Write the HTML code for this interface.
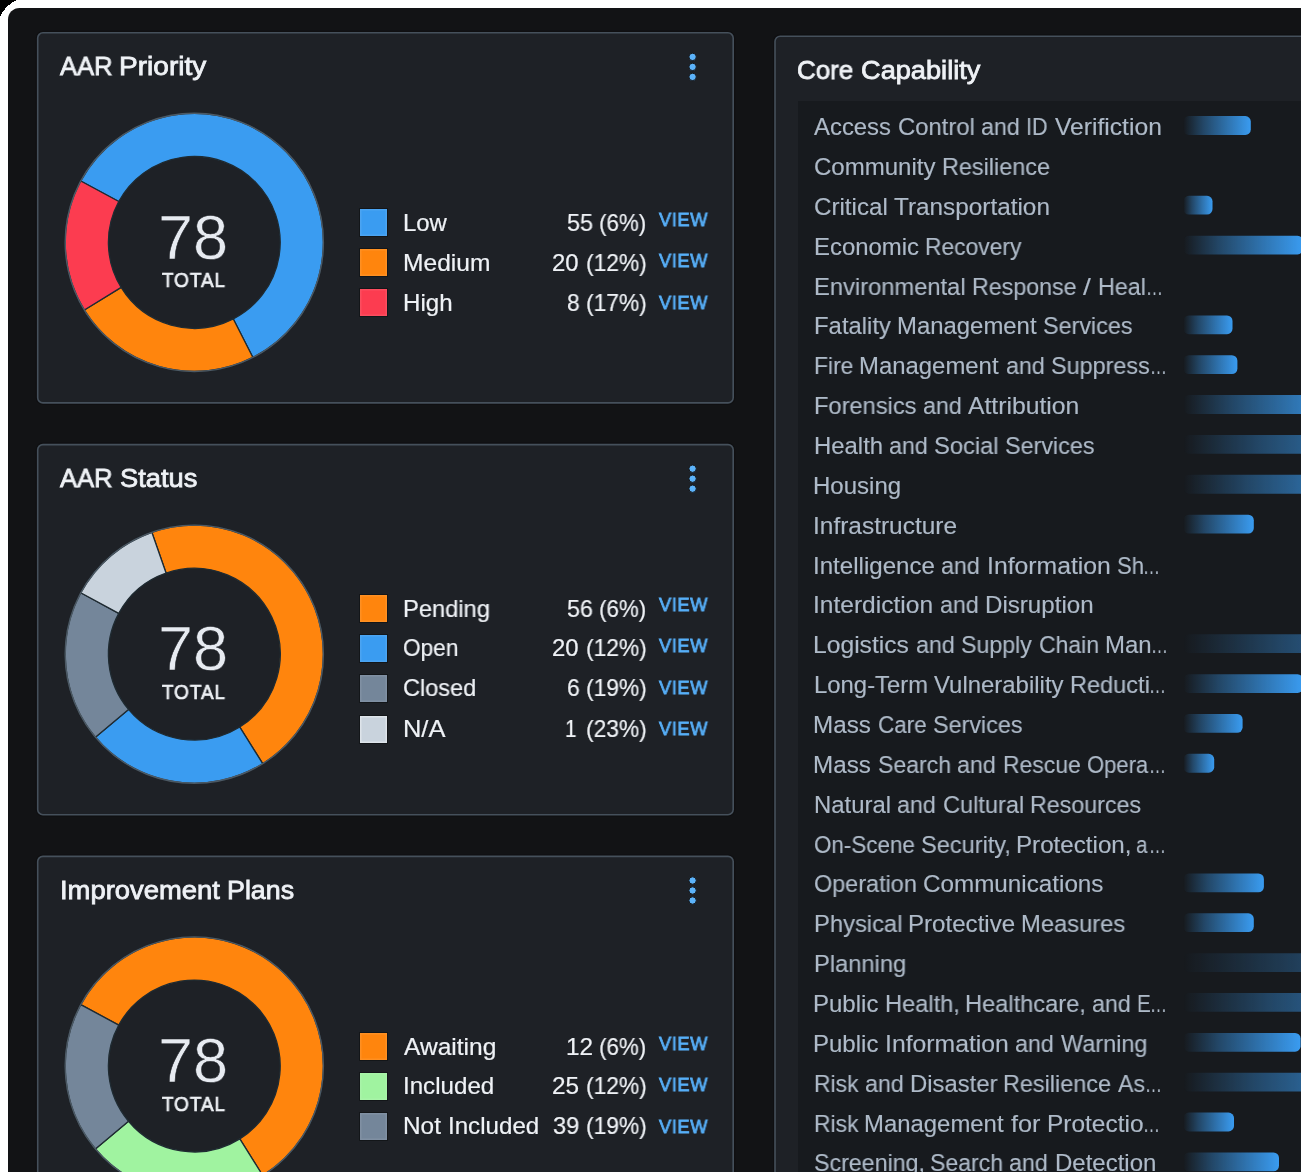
<!DOCTYPE html>
<html lang="en"><head><meta charset="utf-8"><title>AAR Dashboard</title>
<style>
html,body{margin:0;padding:0}
body{width:1301px;height:1172px;overflow:hidden;position:relative;background:#fff;font-family:"Liberation Sans",sans-serif;}
.page{position:absolute;left:8px;top:8px;width:1293px;height:1164px;background:#121315;border-top-left-radius:11.5px;overflow:hidden}
.abs{position:absolute}
.tx{position:static;display:block;margin:0;padding:0}
.t{position:absolute;white-space:nowrap;transform-origin:0 0;display:block;will-change:transform}
.card{position:absolute;background:#1e2126;border-radius:5px}
.sw{position:absolute;width:27px;height:27px}
svg{position:absolute;left:0;top:0;overflow:visible}
.bar{position:absolute;height:19px;border-radius:0 6px 6px 0}
</style></head><body>
<svg width="20" height="20" shape-rendering="crispEdges"><path d="M0 0H17.2Q5.1 5.1 0 17.2Z" fill="#000"/></svg>
<div class="page"></div>

<section class="tx" aria-label="AAR Priority">
<div class="card" style="left:37.7px;top:32.8px;width:695.5px;height:370.1px"></div><svg width="1301" height="1172"><rect x="37.7" y="32.8" width="695.5" height="370.1" rx="5.2" fill="none" stroke="#0c0d0f" stroke-width="4" opacity="0.55"/><rect x="37.7" y="32.8" width="695.5" height="370.1" rx="5.2" fill="#1e2126" stroke="#45505b" stroke-width="1.6"/></svg>
<span class="tx"><span class="t med" style="left:60.24px;top:51.00px;font-size:26.3px;line-height:30px;color:#eff2f6;transform:scaleX(0.9739);-webkit-text-stroke:0.8px #eff2f6;">AAR</span> <span class="t med" style="left:119.46px;top:51.00px;font-size:26.3px;line-height:30px;color:#eff2f6;transform:scaleX(1.0668);-webkit-text-stroke:0.8px #eff2f6;">Priority</span></span>
<svg width="1301" height="1172"><g fill="#5cb3fa" stroke="#15181c" stroke-width="1"><circle cx="692.6" cy="56.9" r="3.7"/><circle cx="692.6" cy="66.9" r="3.7"/><circle cx="692.6" cy="76.9" r="3.7"/></g></svg>
<svg width="1301" height="1172"><path d="M80.74 181.00A129.1 129.1 0 1 1 252.91 357.43L233.30 318.94A85.9 85.9 0 1 0 118.74 201.54Z" fill="#3a9cf1" stroke="#1f2b32" stroke-width="1.3" stroke-linejoin="round"/><path d="M252.91 357.43A129.1 129.1 0 0 1 84.34 310.05L121.14 287.41A85.9 85.9 0 0 0 233.30 318.94Z" fill="#ff850d" stroke="#1f2b32" stroke-width="1.3" stroke-linejoin="round"/><path d="M84.34 310.05A129.1 129.1 0 0 1 80.74 181.00L118.74 201.54A85.9 85.9 0 0 0 121.14 287.41Z" fill="#fc3c50" stroke="#1f2b32" stroke-width="1.3" stroke-linejoin="round"/><circle cx="194.3" cy="242.4" r="129.1" fill="none" stroke="#4c5964" stroke-width="1.4"/></svg>
<span class="t num" style="left:158.07px;top:201.57px;font-size:62.9px;line-height:70px;color:#e7ebf1;transform:scaleX(1.0023);-webkit-text-stroke:0.55px #1e2126;">78</span>
<span class="t med" style="left:161.82px;top:269.25px;font-size:20.0px;line-height:22px;color:#eef1f5;transform:scaleX(0.9450);letter-spacing:1.0px;-webkit-text-stroke:0.7px #eef1f5;">TOTAL</span>
<div class="sw" style="left:360.3px;top:209.3px;background:#3a9cf1;box-shadow:inset 0 0 0 1.5px rgba(255,255,255,.09),0 0 0 1px rgba(6,8,12,.45);"></div>
<span class="tx"><span class="t " style="left:403.08px;top:208.80px;font-size:23.9px;line-height:27px;color:#eff2f6;transform:scaleX(1.0015);-webkit-text-stroke:0.2px #eff2f6;">Low</span></span>
<span class="tx"><span class="t " style="left:567.04px;top:208.80px;font-size:23.9px;line-height:27px;color:#eff2f6;transform:scaleX(0.9803);-webkit-text-stroke:0.2px #eff2f6;">55</span> <span class="t " style="left:599.48px;top:208.80px;font-size:23.9px;line-height:27px;color:#eff2f6;transform:scaleX(0.9353);-webkit-text-stroke:0.2px #eff2f6;">(6%)</span></span>
<span class="t med" style="left:658.71px;top:208.70px;font-size:18.9px;line-height:21px;color:#57aff8;transform:scaleX(0.9670);letter-spacing:0.6px;-webkit-text-stroke:0.8px #57aff8;">VIEW</span>
<div class="sw" style="left:360.3px;top:249.3px;background:#ff850d;box-shadow:inset 0 0 0 1.5px rgba(255,255,255,.09),0 0 0 1px rgba(6,8,12,.45);"></div>
<span class="tx"><span class="t " style="left:403.02px;top:248.60px;font-size:23.9px;line-height:27px;color:#eff2f6;transform:scaleX(1.0288);-webkit-text-stroke:0.2px #eff2f6;">Medium</span></span>
<span class="tx"><span class="t " style="left:552.49px;top:248.60px;font-size:23.9px;line-height:27px;color:#eff2f6;transform:scaleX(0.9998);-webkit-text-stroke:0.2px #eff2f6;">20</span> <span class="t " style="left:585.88px;top:248.60px;font-size:23.9px;line-height:27px;color:#eff2f6;transform:scaleX(0.9535);-webkit-text-stroke:0.2px #eff2f6;">(12%)</span></span>
<span class="t med" style="left:658.71px;top:250.20px;font-size:18.9px;line-height:21px;color:#57aff8;transform:scaleX(0.9670);letter-spacing:0.6px;-webkit-text-stroke:0.8px #57aff8;">VIEW</span>
<div class="sw" style="left:360.3px;top:289.3px;background:#fc3c50;box-shadow:inset 0 0 0 1.5px rgba(255,255,255,.09),0 0 0 1px rgba(6,8,12,.45);"></div>
<span class="tx"><span class="t " style="left:403.06px;top:288.50px;font-size:23.9px;line-height:27px;color:#eff2f6;transform:scaleX(1.0081);-webkit-text-stroke:0.2px #eff2f6;">High</span></span>
<span class="tx"><span class="t " style="left:566.52px;top:288.50px;font-size:23.9px;line-height:27px;color:#eff2f6;transform:scaleX(0.9506);-webkit-text-stroke:0.2px #eff2f6;">8</span> <span class="t " style="left:585.88px;top:288.50px;font-size:23.9px;line-height:27px;color:#eff2f6;transform:scaleX(0.9535);-webkit-text-stroke:0.2px #eff2f6;">(17%)</span></span>
<span class="t med" style="left:658.71px;top:291.60px;font-size:18.9px;line-height:21px;color:#57aff8;transform:scaleX(0.9670);letter-spacing:0.6px;-webkit-text-stroke:0.8px #57aff8;">VIEW</span>
</section>
<section class="tx" aria-label="AAR Status">
<div class="card" style="left:37.7px;top:444.6px;width:695.5px;height:370.1px"></div><svg width="1301" height="1172"><rect x="37.7" y="444.6" width="695.5" height="370.1" rx="5.2" fill="none" stroke="#0c0d0f" stroke-width="4" opacity="0.55"/><rect x="37.7" y="444.6" width="695.5" height="370.1" rx="5.2" fill="#1e2126" stroke="#45505b" stroke-width="1.6"/></svg>
<span class="tx"><span class="t med" style="left:60.24px;top:462.80px;font-size:26.3px;line-height:30px;color:#eff2f6;transform:scaleX(0.9739);-webkit-text-stroke:0.8px #eff2f6;">AAR</span> <span class="t med" style="left:119.60px;top:462.80px;font-size:26.3px;line-height:30px;color:#eff2f6;transform:scaleX(1.0368);-webkit-text-stroke:0.8px #eff2f6;">Status</span></span>
<svg width="1301" height="1172"><g fill="#5cb3fa" stroke="#15181c" stroke-width="1"><circle cx="692.6" cy="468.7" r="3.7"/><circle cx="692.6" cy="478.7" r="3.7"/><circle cx="692.6" cy="488.7" r="3.7"/></g></svg>
<svg width="1301" height="1172"><path d="M151.84 532.28A129.1 129.1 0 0 1 262.71 763.68L239.82 727.05A85.9 85.9 0 0 0 166.05 573.08Z" fill="#ff850d" stroke="#1f2b32" stroke-width="1.3" stroke-linejoin="round"/><path d="M262.71 763.68A129.1 129.1 0 0 1 95.40 737.18L128.50 709.42A85.9 85.9 0 0 0 239.82 727.05Z" fill="#3a9cf1" stroke="#1f2b32" stroke-width="1.3" stroke-linejoin="round"/><path d="M95.40 737.18A129.1 129.1 0 0 1 80.74 592.80L118.74 613.34A85.9 85.9 0 0 0 128.50 709.42Z" fill="#74869a" stroke="#1f2b32" stroke-width="1.3" stroke-linejoin="round"/><path d="M80.74 592.80A129.1 129.1 0 0 1 151.84 532.28L166.05 573.08A85.9 85.9 0 0 0 118.74 613.34Z" fill="#c9d3dd" stroke="#1f2b32" stroke-width="1.3" stroke-linejoin="round"/><circle cx="194.3" cy="654.2" r="129.1" fill="none" stroke="#4c5964" stroke-width="1.4"/></svg>
<span class="t num" style="left:158.07px;top:613.38px;font-size:62.9px;line-height:70px;color:#e7ebf1;transform:scaleX(1.0023);-webkit-text-stroke:0.55px #1e2126;">78</span>
<span class="t med" style="left:161.82px;top:681.05px;font-size:20.0px;line-height:22px;color:#eef1f5;transform:scaleX(0.9450);letter-spacing:1.0px;-webkit-text-stroke:0.7px #eef1f5;">TOTAL</span>
<div class="sw" style="left:360.3px;top:594.6px;background:#ff850d;box-shadow:inset 0 0 0 1.5px rgba(255,255,255,.09),0 0 0 1px rgba(6,8,12,.45);"></div>
<span class="tx"><span class="t " style="left:403.09px;top:594.65px;font-size:23.9px;line-height:27px;color:#eff2f6;transform:scaleX(0.9916);-webkit-text-stroke:0.2px #eff2f6;">Pending</span></span>
<span class="tx"><span class="t " style="left:567.04px;top:594.65px;font-size:23.9px;line-height:27px;color:#eff2f6;transform:scaleX(0.9753);-webkit-text-stroke:0.2px #eff2f6;">56</span> <span class="t " style="left:599.48px;top:594.65px;font-size:23.9px;line-height:27px;color:#eff2f6;transform:scaleX(0.9353);-webkit-text-stroke:0.2px #eff2f6;">(6%)</span></span>
<span class="t med" style="left:658.71px;top:594.00px;font-size:18.9px;line-height:21px;color:#57aff8;transform:scaleX(0.9670);letter-spacing:0.6px;-webkit-text-stroke:0.8px #57aff8;">VIEW</span>
<div class="sw" style="left:360.3px;top:634.6px;background:#3a9cf1;box-shadow:inset 0 0 0 1.5px rgba(255,255,255,.09),0 0 0 1px rgba(6,8,12,.45);"></div>
<span class="tx"><span class="t " style="left:403.42px;top:634.30px;font-size:23.9px;line-height:27px;color:#eff2f6;transform:scaleX(0.9482);-webkit-text-stroke:0.2px #eff2f6;">Open</span></span>
<span class="tx"><span class="t " style="left:552.49px;top:634.30px;font-size:23.9px;line-height:27px;color:#eff2f6;transform:scaleX(0.9998);-webkit-text-stroke:0.2px #eff2f6;">20</span> <span class="t " style="left:585.88px;top:634.30px;font-size:23.9px;line-height:27px;color:#eff2f6;transform:scaleX(0.9535);-webkit-text-stroke:0.2px #eff2f6;">(12%)</span></span>
<span class="t med" style="left:658.71px;top:635.30px;font-size:18.9px;line-height:21px;color:#57aff8;transform:scaleX(0.9670);letter-spacing:0.6px;-webkit-text-stroke:0.8px #57aff8;">VIEW</span>
<div class="sw" style="left:360.3px;top:674.5px;background:#74869a;box-shadow:inset 0 0 0 1.5px rgba(255,255,255,.09),0 0 0 1px rgba(6,8,12,.45);"></div>
<span class="tx"><span class="t " style="left:403.32px;top:673.90px;font-size:23.9px;line-height:27px;color:#eff2f6;transform:scaleX(0.9862);-webkit-text-stroke:0.2px #eff2f6;">Closed</span></span>
<span class="tx"><span class="t " style="left:566.58px;top:673.90px;font-size:23.9px;line-height:27px;color:#eff2f6;transform:scaleX(0.9606);-webkit-text-stroke:0.2px #eff2f6;">6</span> <span class="t " style="left:585.88px;top:673.90px;font-size:23.9px;line-height:27px;color:#eff2f6;transform:scaleX(0.9535);-webkit-text-stroke:0.2px #eff2f6;">(19%)</span></span>
<span class="t med" style="left:658.71px;top:676.70px;font-size:18.9px;line-height:21px;color:#57aff8;transform:scaleX(0.9670);letter-spacing:0.6px;-webkit-text-stroke:0.8px #57aff8;">VIEW</span>
<div class="sw" style="left:360.3px;top:716.2px;background:#c9d3dd;box-shadow:inset 0 0 0 1.5px rgba(255,255,255,.4),0 0 0 1px rgba(6,8,12,.45);"></div>
<span class="tx"><span class="t " style="left:402.95px;top:715.40px;font-size:23.9px;line-height:27px;color:#eff2f6;transform:scaleX(1.0647);-webkit-text-stroke:0.2px #eff2f6;">N/A</span></span>
<span class="tx"><span class="t " style="left:565.33px;top:715.40px;font-size:23.9px;line-height:27px;color:#eff2f6;transform:scaleX(0.8600);-webkit-text-stroke:0.2px #eff2f6;">1</span> <span class="t " style="left:585.88px;top:715.40px;font-size:23.9px;line-height:27px;color:#eff2f6;transform:scaleX(0.9535);-webkit-text-stroke:0.2px #eff2f6;">(23%)</span></span>
<span class="t med" style="left:658.71px;top:718.00px;font-size:18.9px;line-height:21px;color:#57aff8;transform:scaleX(0.9670);letter-spacing:0.6px;-webkit-text-stroke:0.8px #57aff8;">VIEW</span>
</section>
<section class="tx" aria-label="Improvement Plans">
<div class="card" style="left:37.7px;top:856.4px;width:695.5px;height:370.1px"></div><svg width="1301" height="1172"><rect x="37.7" y="856.4" width="695.5" height="370.1" rx="5.2" fill="none" stroke="#0c0d0f" stroke-width="4" opacity="0.55"/><rect x="37.7" y="856.4" width="695.5" height="370.1" rx="5.2" fill="#1e2126" stroke="#45505b" stroke-width="1.6"/></svg>
<span class="tx"><span class="t med" style="left:59.56px;top:874.60px;font-size:26.3px;line-height:30px;color:#eff2f6;transform:scaleX(1.0423);-webkit-text-stroke:0.8px #eff2f6;">Improvement</span> <span class="t med" style="left:227.31px;top:874.60px;font-size:26.3px;line-height:30px;color:#eff2f6;transform:scaleX(1.0195);-webkit-text-stroke:0.8px #eff2f6;">Plans</span></span>
<svg width="1301" height="1172"><g fill="#5cb3fa" stroke="#15181c" stroke-width="1"><circle cx="692.6" cy="880.5" r="3.7"/><circle cx="692.6" cy="890.5" r="3.7"/><circle cx="692.6" cy="900.5" r="3.7"/></g></svg>
<svg width="1301" height="1172"><path d="M80.74 1004.60A129.1 129.1 0 1 1 262.71 1175.48L239.82 1138.85A85.9 85.9 0 1 0 118.74 1025.14Z" fill="#ff850d" stroke="#1f2b32" stroke-width="1.3" stroke-linejoin="round"/><path d="M262.71 1175.48A129.1 129.1 0 0 1 95.40 1148.98L128.50 1121.22A85.9 85.9 0 0 0 239.82 1138.85Z" fill="#a0f3a0" stroke="#1f2b32" stroke-width="1.3" stroke-linejoin="round"/><path d="M95.40 1148.98A129.1 129.1 0 0 1 80.74 1004.60L118.74 1025.14A85.9 85.9 0 0 0 128.50 1121.22Z" fill="#74869a" stroke="#1f2b32" stroke-width="1.3" stroke-linejoin="round"/><circle cx="194.3" cy="1066.0" r="129.1" fill="none" stroke="#4c5964" stroke-width="1.4"/></svg>
<span class="t num" style="left:158.07px;top:1025.18px;font-size:62.9px;line-height:70px;color:#e7ebf1;transform:scaleX(1.0023);-webkit-text-stroke:0.55px #1e2126;">78</span>
<span class="t med" style="left:161.82px;top:1092.85px;font-size:20.0px;line-height:22px;color:#eef1f5;transform:scaleX(0.9450);letter-spacing:1.0px;-webkit-text-stroke:0.7px #eef1f5;">TOTAL</span>
<div class="sw" style="left:360.3px;top:1033.3px;background:#ff850d;box-shadow:inset 0 0 0 1.5px rgba(255,255,255,.09),0 0 0 1px rgba(6,8,12,.45);"></div>
<span class="tx"><span class="t " style="left:403.94px;top:1032.70px;font-size:23.9px;line-height:27px;color:#eff2f6;transform:scaleX(1.0274);-webkit-text-stroke:0.2px #eff2f6;">Awaiting</span></span>
<span class="tx"><span class="t " style="left:566.33px;top:1032.70px;font-size:23.9px;line-height:27px;color:#eff2f6;transform:scaleX(1.0200);-webkit-text-stroke:0.2px #eff2f6;">12</span> <span class="t " style="left:599.48px;top:1032.70px;font-size:23.9px;line-height:27px;color:#eff2f6;transform:scaleX(0.9353);-webkit-text-stroke:0.2px #eff2f6;">(6%)</span></span>
<span class="t med" style="left:658.71px;top:1032.70px;font-size:18.9px;line-height:21px;color:#57aff8;transform:scaleX(0.9670);letter-spacing:0.6px;-webkit-text-stroke:0.8px #57aff8;">VIEW</span>
<div class="sw" style="left:360.3px;top:1073.3px;background:#a0f3a0;box-shadow:inset 0 0 0 1.5px rgba(255,255,255,.09),0 0 0 1px rgba(6,8,12,.45);"></div>
<span class="tx"><span class="t " style="left:402.82px;top:1072.40px;font-size:23.9px;line-height:27px;color:#eff2f6;transform:scaleX(1.0098);-webkit-text-stroke:0.2px #eff2f6;">Included</span></span>
<span class="tx"><span class="t " style="left:552.46px;top:1072.40px;font-size:23.9px;line-height:27px;color:#eff2f6;transform:scaleX(1.0195);-webkit-text-stroke:0.2px #eff2f6;">25</span> <span class="t " style="left:585.88px;top:1072.40px;font-size:23.9px;line-height:27px;color:#eff2f6;transform:scaleX(0.9535);-webkit-text-stroke:0.2px #eff2f6;">(12%)</span></span>
<span class="t med" style="left:658.71px;top:1074.20px;font-size:18.9px;line-height:21px;color:#57aff8;transform:scaleX(0.9670);letter-spacing:0.6px;-webkit-text-stroke:0.8px #57aff8;">VIEW</span>
<div class="sw" style="left:360.3px;top:1113.3px;background:#74869a;box-shadow:inset 0 0 0 1.5px rgba(255,255,255,.09),0 0 0 1px rgba(6,8,12,.45);"></div>
<span class="tx"><span class="t " style="left:403.04px;top:1112.20px;font-size:23.9px;line-height:27px;color:#eff2f6;transform:scaleX(1.0199);-webkit-text-stroke:0.2px #eff2f6;">Not</span> <span class="t " style="left:447.80px;top:1112.20px;font-size:23.9px;line-height:27px;color:#eff2f6;transform:scaleX(1.0098);-webkit-text-stroke:0.2px #eff2f6;">Included</span></span>
<span class="tx"><span class="t " style="left:552.80px;top:1112.20px;font-size:23.9px;line-height:27px;color:#eff2f6;transform:scaleX(0.9876);-webkit-text-stroke:0.2px #eff2f6;">39</span> <span class="t " style="left:585.88px;top:1112.20px;font-size:23.9px;line-height:27px;color:#eff2f6;transform:scaleX(0.9535);-webkit-text-stroke:0.2px #eff2f6;">(19%)</span></span>
<span class="t med" style="left:658.71px;top:1115.60px;font-size:18.9px;line-height:21px;color:#57aff8;transform:scaleX(0.9670);letter-spacing:0.6px;-webkit-text-stroke:0.8px #57aff8;">VIEW</span>
</section>
<section class="tx" aria-label="Core Capability">
<div class="card" style="left:775.0px;top:36.2px;width:545.0px;height:1163.8px"></div><svg width="1301" height="1172"><rect x="775.0" y="36.2" width="545.0" height="1163.8" rx="5.2" fill="none" stroke="#0c0d0f" stroke-width="4" opacity="0.55"/><rect x="775.0" y="36.2" width="545.0" height="1163.8" rx="5.2" fill="#1e2126" stroke="#45505b" stroke-width="1.6"/></svg>
<div class="abs" style="left:798px;top:100.6px;width:520px;height:1080px;background:#171a1e"></div>
<span class="tx"><span class="t med" style="left:797.10px;top:54.50px;font-size:26.3px;line-height:30px;color:#eff2f6;transform:scaleX(0.9881);-webkit-text-stroke:0.8px #eff2f6;">Core</span> <span class="t med" style="left:860.67px;top:54.50px;font-size:26.3px;line-height:30px;color:#eff2f6;transform:scaleX(1.0338);-webkit-text-stroke:0.8px #eff2f6;">Capability</span></span>
<span class="tx"><span class="t " style="left:814.02px;top:113.12px;font-size:23.9px;line-height:27px;color:#aebac8;transform:scaleX(0.9991);-webkit-text-stroke:0.15px #aebac8;">Access</span> <span class="t " style="left:897.62px;top:113.12px;font-size:23.9px;line-height:27px;color:#aebac8;transform:scaleX(0.9967);-webkit-text-stroke:0.15px #aebac8;">Control</span> <span class="t " style="left:981.03px;top:113.12px;font-size:23.9px;line-height:27px;color:#aebac8;transform:scaleX(0.9751);-webkit-text-stroke:0.15px #aebac8;">and</span> <span class="t " style="left:1026.46px;top:113.12px;font-size:23.9px;line-height:27px;color:#aebac8;transform:scaleX(0.8966);-webkit-text-stroke:0.15px #aebac8;">ID</span> <span class="t " style="left:1054.63px;top:113.12px;font-size:23.9px;line-height:27px;color:#aebac8;transform:scaleX(1.0317);-webkit-text-stroke:0.15px #aebac8;">Verifiction</span></span>
<span class="tx"><span class="t " style="left:813.67px;top:152.99px;font-size:23.9px;line-height:27px;color:#aebac8;transform:scaleX(1.0054);-webkit-text-stroke:0.15px #aebac8;">Community</span> <span class="t " style="left:941.60px;top:152.99px;font-size:23.9px;line-height:27px;color:#aebac8;transform:scaleX(0.9795);-webkit-text-stroke:0.15px #aebac8;">Resilience</span></span>
<span class="tx"><span class="t " style="left:813.67px;top:192.84px;font-size:23.9px;line-height:27px;color:#aebac8;transform:scaleX(1.0111);-webkit-text-stroke:0.15px #aebac8;">Critical</span> <span class="t " style="left:893.86px;top:192.84px;font-size:23.9px;line-height:27px;color:#aebac8;transform:scaleX(1.0180);-webkit-text-stroke:0.15px #aebac8;">Transportation</span></span>
<span class="tx"><span class="t " style="left:813.50px;top:232.70px;font-size:23.9px;line-height:27px;color:#aebac8;transform:scaleX(1.0011);-webkit-text-stroke:0.15px #aebac8;">Economic</span> <span class="t " style="left:924.90px;top:232.70px;font-size:23.9px;line-height:27px;color:#aebac8;transform:scaleX(0.9551);-webkit-text-stroke:0.15px #aebac8;">Recovery</span></span>
<span class="tx"><span class="t " style="left:813.52px;top:272.56px;font-size:23.9px;line-height:27px;color:#aebac8;transform:scaleX(0.9925);-webkit-text-stroke:0.15px #aebac8;">Environmental</span> <span class="t " style="left:971.55px;top:272.56px;font-size:23.9px;line-height:27px;color:#aebac8;transform:scaleX(0.9725);-webkit-text-stroke:0.15px #aebac8;">Response</span> <span class="t " style="left:1082.88px;top:272.56px;font-size:23.9px;line-height:27px;color:#aebac8;transform:scaleX(1.1800);-webkit-text-stroke:0.15px #aebac8;">/</span> <span class="t " style="left:1098.03px;top:272.56px;font-size:23.9px;line-height:27px;color:#aebac8;transform:scaleX(0.9757);-webkit-text-stroke:0.15px #aebac8;">Heal</span><span class="t " style="left:1145.87px;top:272.56px;font-size:23.9px;line-height:27px;color:#aebac8;transform:scaleX(0.7096);-webkit-text-stroke:0.15px #aebac8;">…</span></span>
<span class="tx"><span class="t " style="left:813.51px;top:312.43px;font-size:23.9px;line-height:27px;color:#aebac8;transform:scaleX(0.9981);-webkit-text-stroke:0.15px #aebac8;">Fatality</span> <span class="t " style="left:896.75px;top:312.43px;font-size:23.9px;line-height:27px;color:#aebac8;transform:scaleX(1.0008);-webkit-text-stroke:0.15px #aebac8;">Management</span> <span class="t " style="left:1043.06px;top:312.43px;font-size:23.9px;line-height:27px;color:#aebac8;transform:scaleX(0.9763);-webkit-text-stroke:0.15px #aebac8;">Services</span></span>
<span class="tx"><span class="t " style="left:813.59px;top:352.29px;font-size:23.9px;line-height:27px;color:#aebac8;transform:scaleX(0.9581);-webkit-text-stroke:0.15px #aebac8;">Fire</span> <span class="t " style="left:858.98px;top:352.29px;font-size:23.9px;line-height:27px;color:#aebac8;transform:scaleX(1.0008);-webkit-text-stroke:0.15px #aebac8;">Management</span> <span class="t " style="left:1005.64px;top:352.29px;font-size:23.9px;line-height:27px;color:#aebac8;transform:scaleX(0.9751);-webkit-text-stroke:0.15px #aebac8;">and</span> <span class="t " style="left:1050.81px;top:352.29px;font-size:23.9px;line-height:27px;color:#aebac8;transform:scaleX(0.9785);-webkit-text-stroke:0.15px #aebac8;">Suppress</span><span class="t " style="left:1149.57px;top:352.29px;font-size:23.9px;line-height:27px;color:#aebac8;transform:scaleX(0.7096);-webkit-text-stroke:0.15px #aebac8;">…</span></span>
<span class="tx"><span class="t " style="left:813.52px;top:392.14px;font-size:23.9px;line-height:27px;color:#aebac8;transform:scaleX(0.9905);-webkit-text-stroke:0.15px #aebac8;">Forensics</span> <span class="t " style="left:922.87px;top:392.14px;font-size:23.9px;line-height:27px;color:#aebac8;transform:scaleX(0.9751);-webkit-text-stroke:0.15px #aebac8;">and</span> <span class="t " style="left:968.44px;top:392.14px;font-size:23.9px;line-height:27px;color:#aebac8;transform:scaleX(1.0347);-webkit-text-stroke:0.15px #aebac8;">Attribution</span></span>
<span class="tx"><span class="t " style="left:813.50px;top:432.00px;font-size:23.9px;line-height:27px;color:#aebac8;transform:scaleX(1.0009);-webkit-text-stroke:0.15px #aebac8;">Health</span> <span class="t " style="left:889.11px;top:432.00px;font-size:23.9px;line-height:27px;color:#aebac8;transform:scaleX(0.9751);-webkit-text-stroke:0.15px #aebac8;">and</span> <span class="t " style="left:934.26px;top:432.00px;font-size:23.9px;line-height:27px;color:#aebac8;transform:scaleX(0.9917);-webkit-text-stroke:0.15px #aebac8;">Social</span> <span class="t " style="left:1005.08px;top:432.00px;font-size:23.9px;line-height:27px;color:#aebac8;transform:scaleX(0.9763);-webkit-text-stroke:0.15px #aebac8;">Services</span></span>
<span class="tx"><span class="t " style="left:813.49px;top:471.87px;font-size:23.9px;line-height:27px;color:#aebac8;transform:scaleX(1.0056);-webkit-text-stroke:0.15px #aebac8;">Housing</span></span>
<span class="tx"><span class="t " style="left:813.21px;top:511.72px;font-size:23.9px;line-height:27px;color:#aebac8;transform:scaleX(1.0234);-webkit-text-stroke:0.15px #aebac8;">Infrastructure</span></span>
<span class="tx"><span class="t " style="left:813.24px;top:551.58px;font-size:23.9px;line-height:27px;color:#aebac8;transform:scaleX(1.0094);-webkit-text-stroke:0.15px #aebac8;">Intelligence</span> <span class="t " style="left:941.49px;top:551.58px;font-size:23.9px;line-height:27px;color:#aebac8;transform:scaleX(0.9751);-webkit-text-stroke:0.15px #aebac8;">and</span> <span class="t " style="left:986.61px;top:551.58px;font-size:23.9px;line-height:27px;color:#aebac8;transform:scaleX(1.0359);-webkit-text-stroke:0.15px #aebac8;">Information</span> <span class="t " style="left:1116.62px;top:551.58px;font-size:23.9px;line-height:27px;color:#aebac8;transform:scaleX(0.9233);-webkit-text-stroke:0.15px #aebac8;">Sh</span><span class="t " style="left:1143.38px;top:551.58px;font-size:23.9px;line-height:27px;color:#aebac8;transform:scaleX(0.7096);-webkit-text-stroke:0.15px #aebac8;">…</span></span>
<span class="tx"><span class="t " style="left:813.20px;top:591.44px;font-size:23.9px;line-height:27px;color:#aebac8;transform:scaleX(1.0273);-webkit-text-stroke:0.15px #aebac8;">Interdiction</span> <span class="t " style="left:939.73px;top:591.44px;font-size:23.9px;line-height:27px;color:#aebac8;transform:scaleX(0.9751);-webkit-text-stroke:0.15px #aebac8;">and</span> <span class="t " style="left:984.97px;top:591.44px;font-size:23.9px;line-height:27px;color:#aebac8;transform:scaleX(1.0093);-webkit-text-stroke:0.15px #aebac8;">Disruption</span></span>
<span class="tx"><span class="t " style="left:813.44px;top:631.30px;font-size:23.9px;line-height:27px;color:#aebac8;transform:scaleX(1.0322);-webkit-text-stroke:0.15px #aebac8;">Logistics</span> <span class="t " style="left:916.12px;top:631.30px;font-size:23.9px;line-height:27px;color:#aebac8;transform:scaleX(0.9751);-webkit-text-stroke:0.15px #aebac8;">and</span> <span class="t " style="left:961.30px;top:631.30px;font-size:23.9px;line-height:27px;color:#aebac8;transform:scaleX(0.9697);-webkit-text-stroke:0.15px #aebac8;">Supply</span> <span class="t " style="left:1038.74px;top:631.30px;font-size:23.9px;line-height:27px;color:#aebac8;transform:scaleX(0.9619);-webkit-text-stroke:0.15px #aebac8;">Chain</span> <span class="t " style="left:1105.06px;top:631.30px;font-size:23.9px;line-height:27px;color:#aebac8;transform:scaleX(1.0038);-webkit-text-stroke:0.15px #aebac8;">Man</span><span class="t " style="left:1151.44px;top:631.30px;font-size:23.9px;line-height:27px;color:#aebac8;transform:scaleX(0.7096);-webkit-text-stroke:0.15px #aebac8;">…</span></span>
<span class="tx"><span class="t " style="left:813.51px;top:671.16px;font-size:23.9px;line-height:27px;color:#aebac8;transform:scaleX(0.9988);-webkit-text-stroke:0.15px #aebac8;">Long-Term</span> <span class="t " style="left:934.01px;top:671.16px;font-size:23.9px;line-height:27px;color:#aebac8;transform:scaleX(1.0020);-webkit-text-stroke:0.15px #aebac8;">Vulnerability</span> <span class="t " style="left:1069.95px;top:671.16px;font-size:23.9px;line-height:27px;color:#aebac8;transform:scaleX(0.9859);-webkit-text-stroke:0.15px #aebac8;">Reducti</span><span class="t " style="left:1149.43px;top:671.16px;font-size:23.9px;line-height:27px;color:#aebac8;transform:scaleX(0.7096);-webkit-text-stroke:0.15px #aebac8;">…</span></span>
<span class="tx"><span class="t " style="left:813.48px;top:711.02px;font-size:23.9px;line-height:27px;color:#aebac8;transform:scaleX(1.0136);-webkit-text-stroke:0.15px #aebac8;">Mass</span> <span class="t " style="left:878.08px;top:711.02px;font-size:23.9px;line-height:27px;color:#aebac8;transform:scaleX(0.9400);-webkit-text-stroke:0.15px #aebac8;">Care</span> <span class="t " style="left:932.69px;top:711.02px;font-size:23.9px;line-height:27px;color:#aebac8;transform:scaleX(0.9763);-webkit-text-stroke:0.15px #aebac8;">Services</span></span>
<span class="tx"><span class="t " style="left:813.48px;top:750.88px;font-size:23.9px;line-height:27px;color:#aebac8;transform:scaleX(1.0136);-webkit-text-stroke:0.15px #aebac8;">Mass</span> <span class="t " style="left:877.75px;top:750.88px;font-size:23.9px;line-height:27px;color:#aebac8;transform:scaleX(0.9644);-webkit-text-stroke:0.15px #aebac8;">Search</span> <span class="t " style="left:957.30px;top:750.88px;font-size:23.9px;line-height:27px;color:#aebac8;transform:scaleX(0.9751);-webkit-text-stroke:0.15px #aebac8;">and</span> <span class="t " style="left:1002.64px;top:750.88px;font-size:23.9px;line-height:27px;color:#aebac8;transform:scaleX(0.9602);-webkit-text-stroke:0.15px #aebac8;">Rescue</span> <span class="t " style="left:1086.76px;top:750.88px;font-size:23.9px;line-height:27px;color:#aebac8;transform:scaleX(0.9219);-webkit-text-stroke:0.15px #aebac8;">Opera</span><span class="t " style="left:1148.91px;top:750.88px;font-size:23.9px;line-height:27px;color:#aebac8;transform:scaleX(0.7096);-webkit-text-stroke:0.15px #aebac8;">…</span></span>
<span class="tx"><span class="t " style="left:813.50px;top:790.74px;font-size:23.9px;line-height:27px;color:#aebac8;transform:scaleX(0.9992);-webkit-text-stroke:0.15px #aebac8;">Natural</span> <span class="t " style="left:897.08px;top:790.74px;font-size:23.9px;line-height:27px;color:#aebac8;transform:scaleX(0.9751);-webkit-text-stroke:0.15px #aebac8;">and</span> <span class="t " style="left:942.54px;top:790.74px;font-size:23.9px;line-height:27px;color:#aebac8;transform:scaleX(0.9867);-webkit-text-stroke:0.15px #aebac8;">Cultural</span> <span class="t " style="left:1030.22px;top:790.74px;font-size:23.9px;line-height:27px;color:#aebac8;transform:scaleX(0.9727);-webkit-text-stroke:0.15px #aebac8;">Resources</span></span>
<span class="tx"><span class="t " style="left:813.81px;top:830.61px;font-size:23.9px;line-height:27px;color:#aebac8;transform:scaleX(0.9378);-webkit-text-stroke:0.15px #aebac8;">On-Scene</span> <span class="t " style="left:920.62px;top:830.61px;font-size:23.9px;line-height:27px;color:#aebac8;transform:scaleX(0.9859);-webkit-text-stroke:0.15px #aebac8;">Security,</span> <span class="t " style="left:1015.58px;top:830.61px;font-size:23.9px;line-height:27px;color:#aebac8;transform:scaleX(1.0111);-webkit-text-stroke:0.15px #aebac8;">Protection,</span> <span class="t " style="left:1136.35px;top:830.61px;font-size:23.9px;line-height:27px;color:#aebac8;transform:scaleX(0.8600);-webkit-text-stroke:0.15px #aebac8;">a</span><span class="t " style="left:1148.55px;top:830.61px;font-size:23.9px;line-height:27px;color:#aebac8;transform:scaleX(0.7096);-webkit-text-stroke:0.15px #aebac8;">…</span></span>
<span class="tx"><span class="t " style="left:813.76px;top:870.46px;font-size:23.9px;line-height:27px;color:#aebac8;transform:scaleX(0.9801);-webkit-text-stroke:0.15px #aebac8;">Operation</span> <span class="t " style="left:923.05px;top:870.46px;font-size:23.9px;line-height:27px;color:#aebac8;transform:scaleX(1.0143);-webkit-text-stroke:0.15px #aebac8;">Communications</span></span>
<span class="tx"><span class="t " style="left:813.51px;top:910.33px;font-size:23.9px;line-height:27px;color:#aebac8;transform:scaleX(0.9942);-webkit-text-stroke:0.15px #aebac8;">Physical</span> <span class="t " style="left:908.30px;top:910.33px;font-size:23.9px;line-height:27px;color:#aebac8;transform:scaleX(1.0089);-webkit-text-stroke:0.15px #aebac8;">Protective</span> <span class="t " style="left:1021.43px;top:910.33px;font-size:23.9px;line-height:27px;color:#aebac8;transform:scaleX(0.9930);-webkit-text-stroke:0.15px #aebac8;">Measures</span></span>
<span class="tx"><span class="t " style="left:813.52px;top:950.18px;font-size:23.9px;line-height:27px;color:#aebac8;transform:scaleX(0.9915);-webkit-text-stroke:0.15px #aebac8;">Planning</span></span>
<span class="tx"><span class="t " style="left:813.49px;top:990.04px;font-size:23.9px;line-height:27px;color:#aebac8;transform:scaleX(1.0050);-webkit-text-stroke:0.15px #aebac8;">Public</span> <span class="t " style="left:885.17px;top:990.04px;font-size:23.9px;line-height:27px;color:#aebac8;transform:scaleX(0.9894);-webkit-text-stroke:0.15px #aebac8;">Health,</span> <span class="t " style="left:965.23px;top:990.04px;font-size:23.9px;line-height:27px;color:#aebac8;transform:scaleX(0.9893);-webkit-text-stroke:0.15px #aebac8;">Healthcare,</span> <span class="t " style="left:1091.52px;top:990.04px;font-size:23.9px;line-height:27px;color:#aebac8;transform:scaleX(0.9751);-webkit-text-stroke:0.15px #aebac8;">and</span> <span class="t " style="left:1136.78px;top:990.04px;font-size:23.9px;line-height:27px;color:#aebac8;transform:scaleX(0.8600);-webkit-text-stroke:0.15px #aebac8;">E</span><span class="t " style="left:1149.78px;top:990.04px;font-size:23.9px;line-height:27px;color:#aebac8;transform:scaleX(0.7096);-webkit-text-stroke:0.15px #aebac8;">…</span></span>
<span class="tx"><span class="t " style="left:813.49px;top:1029.90px;font-size:23.9px;line-height:27px;color:#aebac8;transform:scaleX(1.0050);-webkit-text-stroke:0.15px #aebac8;">Public</span> <span class="t " style="left:885.01px;top:1029.90px;font-size:23.9px;line-height:27px;color:#aebac8;transform:scaleX(1.0359);-webkit-text-stroke:0.15px #aebac8;">Information</span> <span class="t " style="left:1015.31px;top:1029.90px;font-size:23.9px;line-height:27px;color:#aebac8;transform:scaleX(0.9751);-webkit-text-stroke:0.15px #aebac8;">and</span> <span class="t " style="left:1061.18px;top:1029.90px;font-size:23.9px;line-height:27px;color:#aebac8;transform:scaleX(0.9812);-webkit-text-stroke:0.15px #aebac8;">Warning</span></span>
<span class="tx"><span class="t " style="left:813.58px;top:1069.76px;font-size:23.9px;line-height:27px;color:#aebac8;transform:scaleX(0.9592);-webkit-text-stroke:0.15px #aebac8;">Risk</span> <span class="t " style="left:864.63px;top:1069.76px;font-size:23.9px;line-height:27px;color:#aebac8;transform:scaleX(0.9751);-webkit-text-stroke:0.15px #aebac8;">and</span> <span class="t " style="left:909.89px;top:1069.76px;font-size:23.9px;line-height:27px;color:#aebac8;transform:scaleX(0.9976);-webkit-text-stroke:0.15px #aebac8;">Disaster</span> <span class="t " style="left:1003.49px;top:1069.76px;font-size:23.9px;line-height:27px;color:#aebac8;transform:scaleX(0.9795);-webkit-text-stroke:0.15px #aebac8;">Resilience</span> <span class="t " style="left:1117.77px;top:1069.76px;font-size:23.9px;line-height:27px;color:#aebac8;transform:scaleX(0.9682);-webkit-text-stroke:0.15px #aebac8;">As</span><span class="t " style="left:1144.76px;top:1069.76px;font-size:23.9px;line-height:27px;color:#aebac8;transform:scaleX(0.7096);-webkit-text-stroke:0.15px #aebac8;">…</span></span>
<span class="tx"><span class="t " style="left:813.58px;top:1109.62px;font-size:23.9px;line-height:27px;color:#aebac8;transform:scaleX(0.9592);-webkit-text-stroke:0.15px #aebac8;">Risk</span> <span class="t " style="left:864.36px;top:1109.62px;font-size:23.9px;line-height:27px;color:#aebac8;transform:scaleX(1.0008);-webkit-text-stroke:0.15px #aebac8;">Management</span> <span class="t " style="left:1011.10px;top:1109.62px;font-size:23.9px;line-height:27px;color:#aebac8;transform:scaleX(1.0576);-webkit-text-stroke:0.15px #aebac8;">for</span> <span class="t " style="left:1046.65px;top:1109.62px;font-size:23.9px;line-height:27px;color:#aebac8;transform:scaleX(1.0233);-webkit-text-stroke:0.15px #aebac8;">Protectio</span><span class="t " style="left:1142.84px;top:1109.62px;font-size:23.9px;line-height:27px;color:#aebac8;transform:scaleX(0.7096);-webkit-text-stroke:0.15px #aebac8;">…</span></span>
<span class="tx"><span class="t " style="left:813.73px;top:1149.48px;font-size:23.9px;line-height:27px;color:#aebac8;transform:scaleX(0.9715);-webkit-text-stroke:0.15px #aebac8;">Screening,</span> <span class="t " style="left:929.77px;top:1149.48px;font-size:23.9px;line-height:27px;color:#aebac8;transform:scaleX(0.9644);-webkit-text-stroke:0.15px #aebac8;">Search</span> <span class="t " style="left:1009.32px;top:1149.48px;font-size:23.9px;line-height:27px;color:#aebac8;transform:scaleX(0.9751);-webkit-text-stroke:0.15px #aebac8;">and</span> <span class="t " style="left:1054.57px;top:1149.48px;font-size:23.9px;line-height:27px;color:#aebac8;transform:scaleX(1.0044);-webkit-text-stroke:0.15px #aebac8;">Detection</span></span>
<svg width="1301" height="1172"><defs><linearGradient id="bg"><stop offset="0" stop-color="#3a9cf1" stop-opacity="0"/><stop offset=".3" stop-color="#3a9cf1" stop-opacity=".35"/><stop offset=".65" stop-color="#3a9cf1" stop-opacity=".68"/><stop offset="1" stop-color="#3a9cf1"/></linearGradient></defs><rect x="1183.3" y="116.10" width="67.5" height="18.8" rx="5.5" fill="url(#bg)"/><rect x="1183.3" y="195.82" width="29.2" height="18.8" rx="5.5" fill="url(#bg)"/><rect x="1183.3" y="235.68" width="119.7" height="18.8" rx="5.5" fill="url(#bg)"/><rect x="1183.3" y="315.40" width="49.2" height="18.8" rx="5.5" fill="url(#bg)"/><rect x="1183.3" y="355.26" width="54.1" height="18.8" rx="5.5" fill="url(#bg)"/><rect x="1183.3" y="395.12" width="166.7" height="18.8" rx="5.5" fill="url(#bg)"/><rect x="1183.3" y="434.98" width="256.7" height="18.8" rx="5.5" fill="url(#bg)"/><rect x="1183.3" y="474.84" width="216.7" height="18.8" rx="5.5" fill="url(#bg)"/><rect x="1183.3" y="514.70" width="70.5" height="18.8" rx="5.5" fill="url(#bg)"/><rect x="1183.3" y="634.28" width="336.7" height="18.8" rx="5.5" fill="url(#bg)"/><rect x="1183.3" y="674.14" width="119.7" height="18.8" rx="5.5" fill="url(#bg)"/><rect x="1183.3" y="714.00" width="59.3" height="18.8" rx="5.5" fill="url(#bg)"/><rect x="1183.3" y="753.86" width="30.9" height="18.8" rx="5.5" fill="url(#bg)"/><rect x="1183.3" y="873.44" width="80.6" height="18.8" rx="5.5" fill="url(#bg)"/><rect x="1183.3" y="913.30" width="70.5" height="18.8" rx="5.5" fill="url(#bg)"/><rect x="1183.3" y="953.16" width="466.7" height="18.8" rx="5.5" fill="url(#bg)"/><rect x="1183.3" y="993.02" width="296.7" height="18.8" rx="5.5" fill="url(#bg)"/><rect x="1183.3" y="1032.88" width="117.3" height="18.8" rx="5.5" fill="url(#bg)"/><rect x="1183.3" y="1072.74" width="236.7" height="18.8" rx="5.5" fill="url(#bg)"/><rect x="1183.3" y="1112.60" width="50.7" height="18.8" rx="5.5" fill="url(#bg)"/><rect x="1183.3" y="1152.46" width="95.7" height="18.8" rx="5.5" fill="url(#bg)"/></svg>
</section>
</body></html>
